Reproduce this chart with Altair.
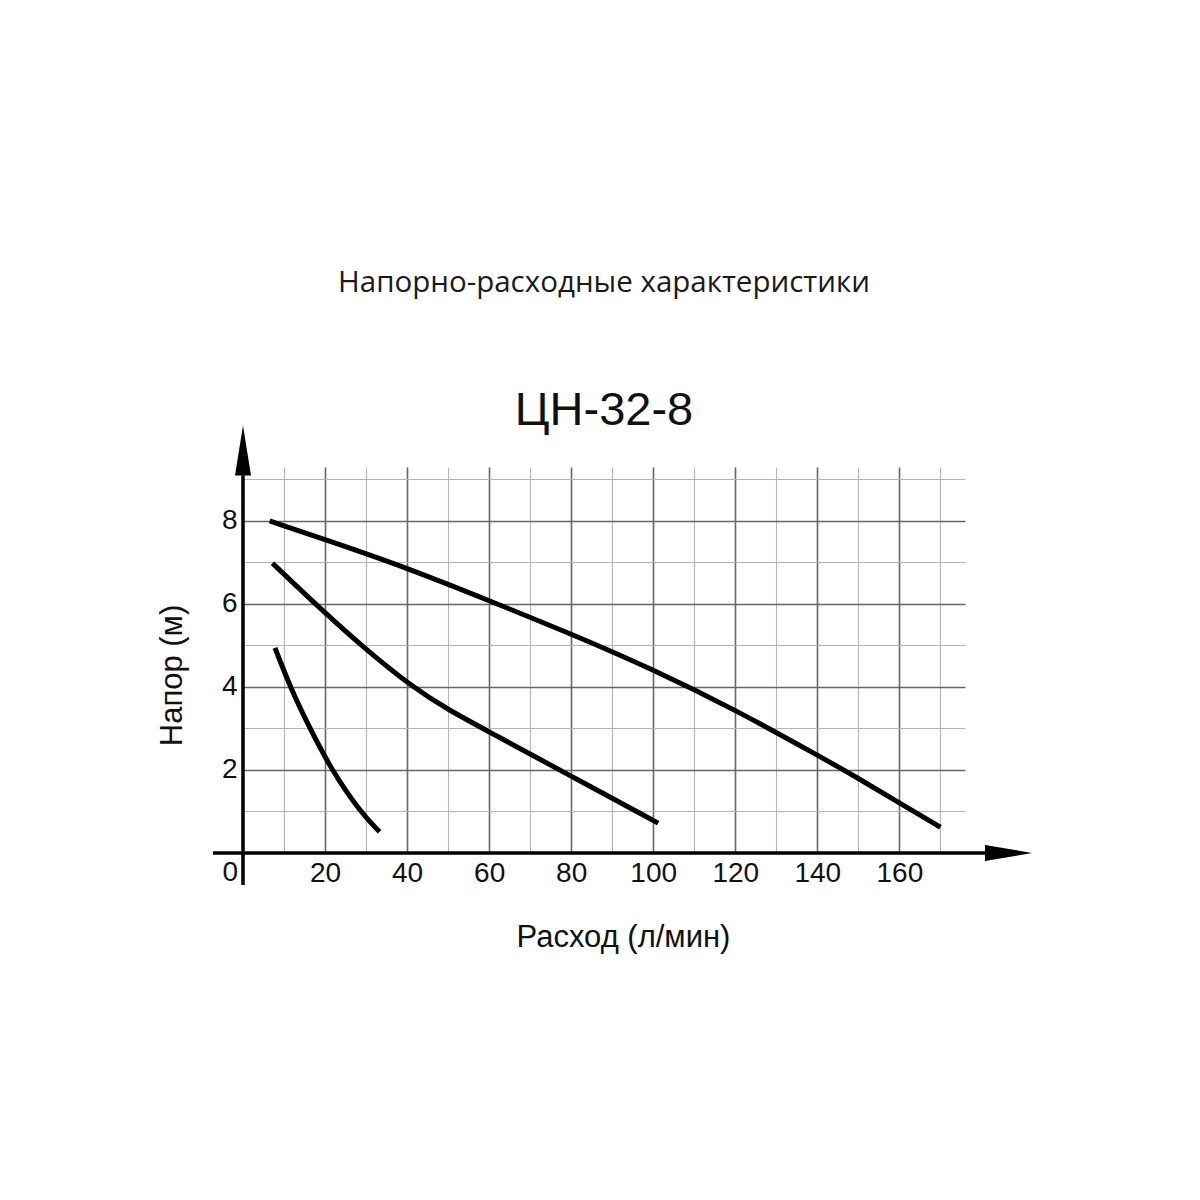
import altair as alt
import pandas as pd

# pump curves (flow l/min, head m)
c1_q = [6.5, 20, 40, 60, 80, 100, 120, 140, 150, 160, 170]
c1_h = [8.0, 7.55, 6.87, 6.08, 5.28, 4.42, 3.45, 2.36, 1.8, 1.21, 0.62]
c2_q = [7.2, 20, 30, 41, 50, 60, 80, 101.2]
c2_h = [6.98, 5.78, 4.9, 4.02, 3.45, 2.92, 1.85, 0.72]
c3_q = [7.8, 11.5, 16.3, 21.6, 28.5, 33.3]
c3_h = [4.94, 4.0, 3.0, 2.0, 1.0, 0.51]

x_grid = list(range(10, 171, 10))
y_grid = list(range(1, 10))

curves = pd.concat([
    pd.DataFrame({"q": c1_q, "h": c1_h, "curve": "1"}),
    pd.DataFrame({"q": c2_q, "h": c2_h, "curve": "2"}),
    pd.DataFrame({"q": c3_q, "h": c3_h, "curve": "3"}),
])

FONT = "Liberation Sans"
xs = alt.Scale(domain=[0, 176], nice=False, zero=False)
ys = alt.Scale(domain=[0, 9.3], nice=False, zero=False)

major_x = "datum.value % 20 === 0"
major_y = "datum.value % 2 === 0"

x_axis = alt.Axis(
    values=x_grid, labelExpr=f"{major_x} ? datum.label : ''",
    domain=False, ticks=False, grid=True,
    gridColor={"condition": {"test": major_x, "value": "#666666"}, "value": "#b4b4b4"},
    gridWidth={"condition": {"test": major_x, "value": 1.6}, "value": 1.1},
    labelFont=FONT, labelFontSize=28, labelColor="#111", labelPadding=6,
    labelFlush=False,
    title="Расход (л/мин)", titleFont=FONT, titleFontSize=31, titleFontWeight="normal",
    titleColor="#111", titleX=380, titleY=93, titleBaseline="alphabetic",
)
y_axis = alt.Axis(
    values=y_grid, labelExpr=f"{major_y} ? datum.label : ''",
    domain=False, ticks=False, grid=True,
    gridColor={"condition": {"test": major_y, "value": "#666666"}, "value": "#b4b4b4"},
    gridWidth={"condition": {"test": major_y, "value": 1.6}, "value": 1.1},
    labelFont=FONT, labelFontSize=28, labelColor="#111", labelPadding=6,
    labelFlush=False,
    title="Напор (м)", titleFont=FONT, titleFontSize=31, titleFontWeight="normal",
    titleColor="#111", titleX=-62, titleY=208, titleAngle=-90, titleBaseline="alphabetic",
)

base = alt.Chart(curves)

lines = base.mark_line(color="black", strokeWidth=5, interpolate="basis", clip=False).encode(
    x=alt.X("q:Q", scale=xs, axis=x_axis),
    y=alt.Y("h:Q", scale=ys, axis=y_axis),
    detail="curve:N",
)

# axis lines with arrows
x_line = pd.DataFrame({"x": [-7.3], "x2": [181.5], "y": [0]})
y_line = pd.DataFrame({"x": [0], "y": [-0.77], "y2": [9.1]})
x_rule = alt.Chart(x_line).mark_rule(color="black", strokeWidth=3.5, clip=False).encode(
    x=alt.X("x:Q", scale=xs), x2="x2", y=alt.Y("y:Q", scale=ys))
y_rule = alt.Chart(y_line).mark_rule(color="black", strokeWidth=3.5, clip=False).encode(
    x=alt.X("x:Q", scale=xs), y=alt.Y("y:Q", scale=ys), y2="y2")

x_head = alt.Chart(pd.DataFrame({"x": [186.6], "y": [0]})).mark_point(
    shape="M-1,-0.34L1,0L-1,0.34Z", size=2209, filled=True, color="black", opacity=1, clip=False
).encode(x=alt.X("x:Q", scale=xs), y=alt.Y("y:Q", scale=ys))
y_head = alt.Chart(pd.DataFrame({"x": [0], "y": [9.7]})).mark_point(
    shape="M-0.32,1L0,-1L0.32,1Z", size=2500, filled=True, color="black", opacity=1, clip=False
).encode(x=alt.X("x:Q", scale=xs), y=alt.Y("y:Q", scale=ys))

zero = alt.Chart(pd.DataFrame({"x": [0], "y": [0], "t": ["0"]})).mark_text(
    font=FONT, fontSize=28, color="#111", align="right", baseline="top", dx=-5, dy=6, clip=False
).encode(x=alt.X("x:Q", scale=xs), y=alt.Y("y:Q", scale=ys), text="t:N")

chart = alt.layer(lines, x_rule, y_rule, x_head, y_head, zero).properties(
    width=722, height=386,
    autosize=alt.AutoSizeParams(type="none"),
    padding={"left": 235, "top": 459, "right": 200, "bottom": 180},
    background="white",
    title=alt.TitleParams(
        "Напорно-расходные характеристики",
        subtitle="ЦН-32-8",
        font="Open Sans", fontSize=29.5, fontWeight="normal", color="#1a1a1a",
        subtitleFont=FONT, subtitleFontSize=47, subtitleColor="#111",
        subtitlePadding=90, anchor="middle", frame="group", offset=-10,
    ),
).configure_view(stroke=None)

chart.save("out.html", embed_options={"renderer": "svg", "actions": False})
